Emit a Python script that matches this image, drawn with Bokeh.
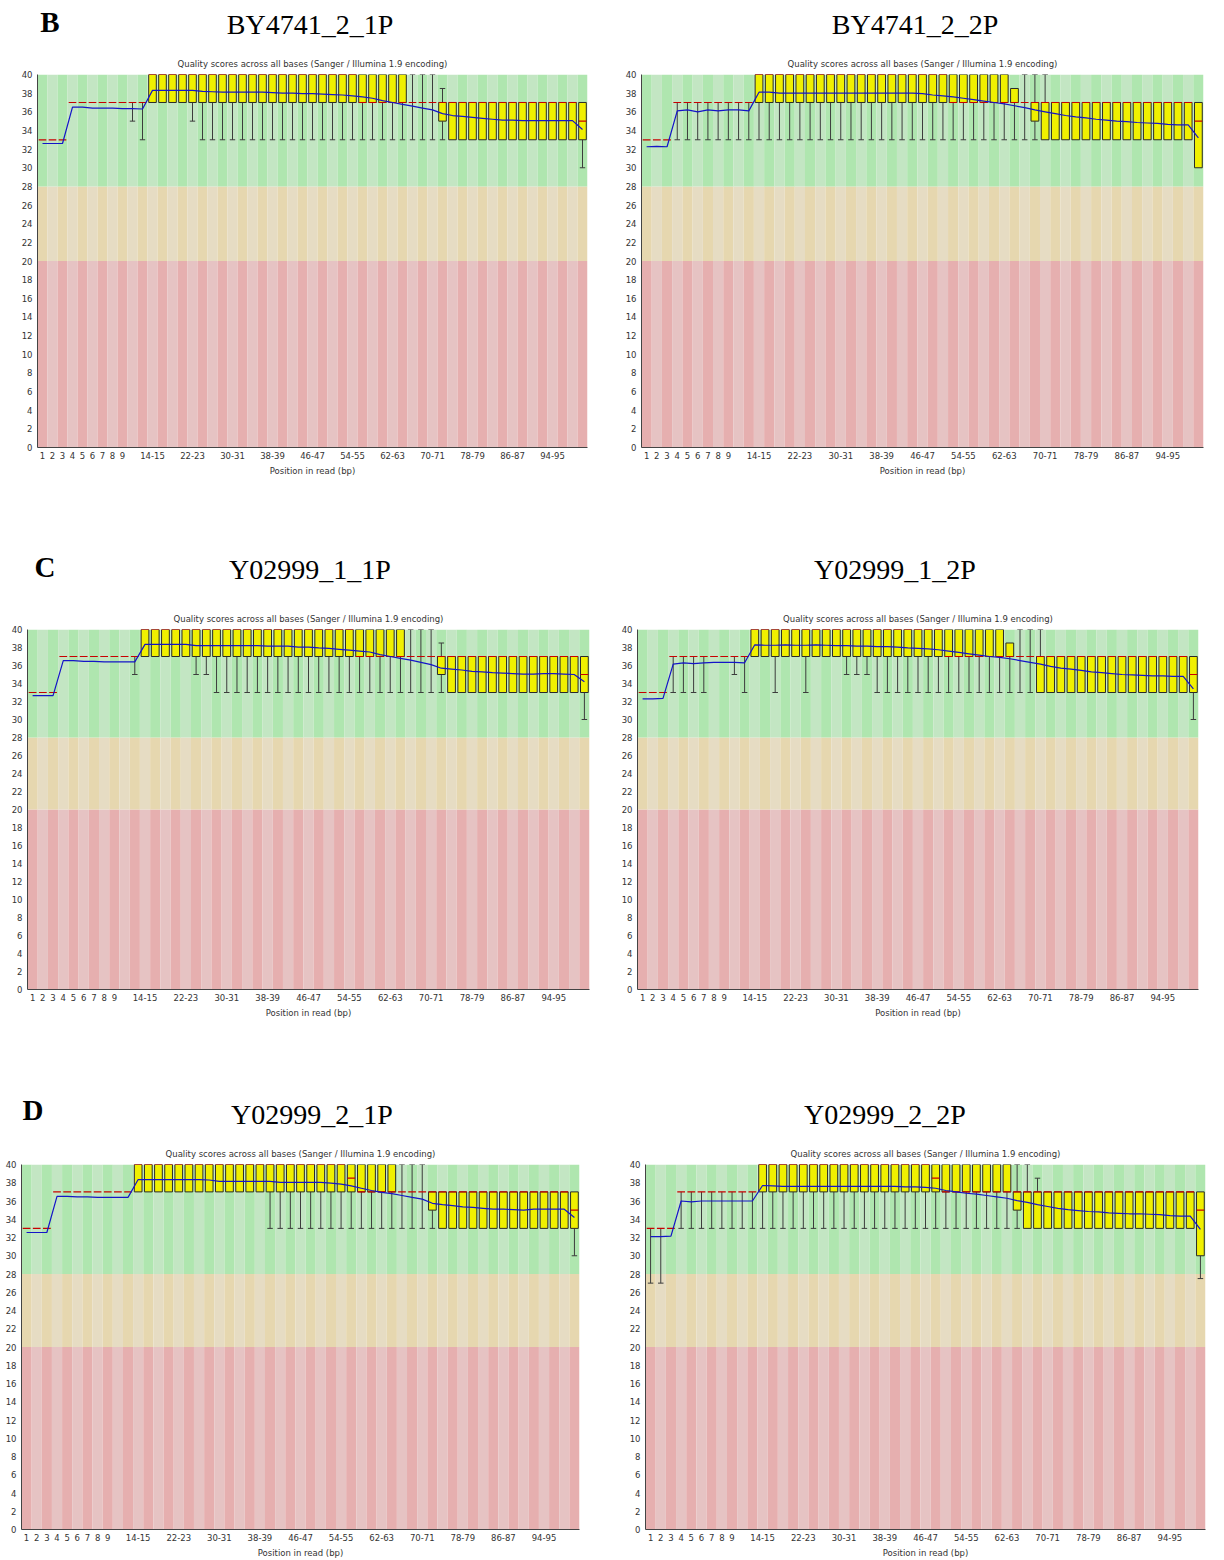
import numpy as np
from bokeh.plotting import figure
from bokeh.models import Range1d, FixedTicker, Div
from bokeh.layouts import column, row
from bokeh.embed import file_html
from bokeh.resources import INLINE

# ---------------- data ----------------
sample_names = ["BY4741_2_1P", "BY4741_2_2P", "Y02999_1_1P",
                "Y02999_1_2P", "Y02999_2_1P", "Y02999_2_2P"]
panel_letters = ["B", "C", "D"]
fastqc_title = "Quality scores across all bases (Sanger / Illumina 1.9 encoding)"
x_title = "Position in read (bp)"

x_labels = ["1", "2", "3", "4", "5", "6", "7", "8", "9",
            "10-11", "12-13", "14-15", "16-17", "18-19", "20-21", "22-23", "24-25",
            "26-27", "28-29", "30-31", "32-33", "34-35", "36-37", "38-39", "40-41",
            "42-43", "44-45", "46-47", "48-49", "50-51", "52-53", "54-55", "56-57",
            "58-59", "60-61", "62-63", "64-65", "66-67", "68-69", "70-71", "72-73",
            "74-75", "76-77", "78-79", "80-81", "82-83", "84-85", "86-87", "88-89",
            "90-91", "92-93", "94-95", "96-97", "98-99", "100-101"]
shown_idx = [0, 1, 2, 3, 4, 5, 6, 7, 8, 11, 15, 19, 23, 27, 31, 35, 39, 43, 47, 51]
y_ticks = [0, 2, 4, 6, 8, 10, 12, 14, 16, 18, 20, 22, 24, 26, 28, 30, 32, 34, 36, 38, 40]
band_edges = [0, 20, 28, 40]

# Panel 1: BY4741_2_1P
p1_med = [33, 33, 33, 37, 37, 37, 37, 37, 37, 37, 37,
          40, 40, 40, 40, 40, 40, 40, 40, 40, 40, 40,
          40, 40, 40, 40, 40, 40, 40, 40, 40, 40, 37,
          37, 37, 37, 37, 37, 37, 37, 37, 37, 37, 37,
          37, 37, 37, 37, 37, 37, 37, 37, 37, 37, 35]
p1_q1 = [33, 33, 33, 37, 37, 37, 37, 37, 37, 37, 37,
         37, 37, 37, 37, 37, 37, 37, 37, 37, 37, 37,
         37, 37, 37, 37, 37, 37, 37, 37, 37, 37, 37,
         37, 37, 37, 37, 37, 37, 37, 35, 33, 33, 33,
         33, 33, 33, 33, 33, 33, 33, 33, 33, 33, 33]
p1_q3 = [33, 33, 33, 37, 37, 37, 37, 37, 37, 37, 37,
         40, 40, 40, 40, 40, 40, 40, 40, 40, 40, 40,
         40, 40, 40, 40, 40, 40, 40, 40, 40, 40, 40,
         40, 40, 40, 40, 37, 37, 37, 37, 37, 37, 37,
         37, 37, 37, 37, 37, 37, 37, 37, 37, 37, 37]
p1_p90 = [33, 33, 33, 37, 37, 37, 37, 37, 37, 37, 37,
          40, 40, 40, 40, 40, 40, 40, 40, 40, 40, 40,
          40, 40, 40, 40, 40, 40, 40, 40, 40, 40, 40,
          40, 40, 40, 40, 40, 40, 40, 38.5, 37, 37, 37,
          37, 37, 37, 37, 37, 37, 37, 37, 37, 37, 37]
p1_p10 = [33, 33, 33, 37, 37, 37, 37, 37, 37, 35, 33,
          37, 37, 37, 37, 35, 33, 33, 33, 33, 33, 33,
          33, 33, 33, 33, 33, 33, 33, 33, 33, 33, 33,
          33, 33, 33, 33, 33, 33, 33, 33, 33, 33, 33,
          33, 33, 33, 33, 33, 33, 33, 33, 33, 33, 30]
p1_mean = [32.6, 32.6, 32.6, 36.5, 36.5, 36.4, 36.4, 36.4, 36.35, 36.35, 36.3,
           38.3, 38.3, 38.3, 38.3, 38.3, 38.2, 38.15, 38.1, 38.1, 38.1, 38.1,
           38.1, 38.05, 38.0, 38.0, 37.95, 37.95, 37.9, 37.85, 37.8, 37.7, 37.6,
           37.45, 37.2, 37.0, 36.8, 36.6, 36.4, 36.2, 35.8, 35.6, 35.5, 35.4,
           35.3, 35.2, 35.1, 35.1, 35.05, 35.05, 35.05, 35.05, 35.05, 35.05, 34.1]

# Panel 2: BY4741_2_2P
p2_med = [33, 33, 33, 37, 37, 37, 37, 37, 37, 37, 37,
          40, 40, 40, 40, 40, 40, 40, 40, 40, 40, 40,
          40, 40, 40, 40, 40, 40, 40, 40, 37, 37, 37,
          37, 37, 37, 37, 37, 37, 37, 37, 37, 37, 37,
          37, 37, 37, 37, 37, 37, 37, 37, 37, 37, 35]
p2_q1 = [33, 33, 33, 37, 37, 37, 37, 37, 37, 37, 37,
         37, 37, 37, 37, 37, 37, 37, 37, 37, 37, 37,
         37, 37, 37, 37, 37, 37, 37, 37, 37, 37, 37,
         37, 37, 37, 37, 37, 35, 33, 33, 33, 33, 33,
         33, 33, 33, 33, 33, 33, 33, 33, 33, 33, 30]
p2_q3 = [33, 33, 33, 37, 37, 37, 37, 37, 37, 37, 37,
         40, 40, 40, 40, 40, 40, 40, 40, 40, 40, 40,
         40, 40, 40, 40, 40, 40, 40, 40, 40, 40, 40,
         40, 40, 40, 38.5, 37, 37, 37, 37, 37, 37, 37,
         37, 37, 37, 37, 37, 37, 37, 37, 37, 37, 37]
p2_p90 = [33, 33, 33, 37, 37, 37, 37, 37, 37, 37, 37,
          40, 40, 40, 40, 40, 40, 40, 40, 40, 40, 40,
          40, 40, 40, 40, 40, 40, 40, 40, 40, 40, 40,
          40, 40, 40, 38.5, 40, 40, 40, 37, 37, 37, 37,
          37, 37, 37, 37, 37, 37, 37, 37, 37, 37, 37]
p2_p10 = [33, 33, 33, 33, 33, 33, 33, 33, 33, 33, 33,
          33, 33, 33, 33, 33, 33, 33, 33, 33, 33, 33,
          33, 33, 33, 33, 33, 33, 33, 33, 33, 33, 33,
          33, 33, 33, 33, 33, 33, 33, 33, 33, 33, 33,
          33, 33, 33, 33, 33, 33, 33, 33, 33, 33, 30]
p2_mean = [32.25, 32.3, 32.25, 36.1, 36.2, 36.0, 36.2, 36.1, 36.2, 36.2, 36.1,
           38.1, 38.1, 38.0, 38.0, 38.0, 38.0, 38.0, 38.0, 38.0, 38.0, 38.0,
           38.0, 38.0, 38.0, 38.0, 38.0, 37.95, 37.8, 37.7, 37.6, 37.45, 37.3,
           37.15, 37.0, 36.85, 36.65, 36.45, 36.2, 36.0, 35.8, 35.6, 35.45, 35.35,
           35.2, 35.1, 35.0, 34.95, 34.85, 34.8, 34.75, 34.65, 34.6, 34.6, 33.2]

# Panel 3: Y02999_1_1P
p3_med = [33, 33, 33, 37, 37, 37, 37, 37, 37, 37, 37,
          40, 40, 40, 40, 40, 40, 40, 40, 40, 40, 40,
          40, 40, 40, 40, 40, 40, 40, 40, 40, 40, 37,
          37, 37, 37, 37, 37, 37, 37, 37, 37, 37, 37,
          37, 37, 37, 37, 37, 37, 37, 37, 37, 37, 35]
p3_q1 = [33, 33, 33, 37, 37, 37, 37, 37, 37, 37, 37,
         37, 37, 37, 37, 37, 37, 37, 37, 37, 37, 37,
         37, 37, 37, 37, 37, 37, 37, 37, 37, 37, 37,
         37, 37, 37, 37, 37, 37, 37, 35, 33, 33, 33,
         33, 33, 33, 33, 33, 33, 33, 33, 33, 33, 33]
p3_q3 = [33, 33, 33, 37, 37, 37, 37, 37, 37, 37, 37,
         40, 40, 40, 40, 40, 40, 40, 40, 40, 40, 40,
         40, 40, 40, 40, 40, 40, 40, 40, 40, 40, 40,
         40, 40, 40, 40, 37, 37, 37, 37, 37, 37, 37,
         37, 37, 37, 37, 37, 37, 37, 37, 37, 37, 37]
p3_p90 = [33, 33, 33, 37, 37, 37, 37, 37, 37, 37, 37,
          40, 40, 40, 40, 40, 40, 40, 40, 40, 40, 40,
          40, 40, 40, 40, 40, 40, 40, 40, 40, 40, 40,
          40, 40, 40, 40, 40, 40, 40, 38.5, 37, 37, 37,
          37, 37, 37, 37, 37, 37, 37, 37, 37, 37, 37]
p3_p10 = [33, 33, 33, 37, 37, 37, 37, 37, 37, 37, 35,
          37, 37, 37, 37, 37, 35, 35, 33, 33, 33, 33,
          33, 33, 33, 33, 33, 33, 33, 33, 33, 33, 33,
          33, 33, 33, 33, 33, 33, 33, 33, 33, 33, 33,
          33, 33, 33, 33, 33, 33, 33, 33, 33, 33, 30]
p3_mean = [32.65, 32.65, 32.65, 36.55, 36.55, 36.45, 36.45, 36.4, 36.4, 36.4, 36.4,
           38.35, 38.35, 38.35, 38.35, 38.35, 38.2, 38.2, 38.2, 38.2, 38.2, 38.2,
           38.2, 38.15, 38.15, 38.15, 38.05, 38.05, 37.95, 37.9, 37.8, 37.7, 37.6,
           37.5, 37.2, 37.0, 36.8, 36.6, 36.35, 36.1, 35.7, 35.6, 35.5, 35.35,
           35.3, 35.2, 35.15, 35.1, 35.05, 35.05, 35.1, 35.1, 35.05, 35.0, 34.2]

# Panel 4: Y02999_1_2P
p4_med = [33, 33, 33, 37, 37, 37, 37, 37, 37, 37, 37,
          40, 40, 40, 40, 40, 40, 40, 40, 40, 40, 40,
          40, 40, 40, 40, 40, 40, 40, 40, 37, 37, 37,
          37, 37, 37, 37, 37, 37, 37, 37, 37, 37, 37,
          37, 37, 37, 37, 37, 37, 37, 37, 37, 37, 35]
p4_q1 = [33, 33, 33, 37, 37, 37, 37, 37, 37, 37, 37,
         37, 37, 37, 37, 37, 37, 37, 37, 37, 37, 37,
         37, 37, 37, 37, 37, 37, 37, 37, 37, 37, 37,
         37, 37, 37, 37, 37, 37, 33, 33, 33, 33, 33,
         33, 33, 33, 33, 33, 33, 33, 33, 33, 33, 33]
p4_q3 = [33, 33, 33, 37, 37, 37, 37, 37, 37, 37, 37,
         40, 40, 40, 40, 40, 40, 40, 40, 40, 40, 40,
         40, 40, 40, 40, 40, 40, 40, 40, 40, 40, 40,
         40, 40, 40, 38.5, 37, 37, 37, 37, 37, 37, 37,
         37, 37, 37, 37, 37, 37, 37, 37, 37, 37, 37]
p4_p90 = [33, 33, 33, 37, 37, 37, 37, 37, 37, 37, 37,
          40, 40, 40, 40, 40, 40, 40, 40, 40, 40, 40,
          40, 40, 40, 40, 40, 40, 40, 40, 40, 40, 40,
          40, 40, 40, 38.5, 40, 40, 40, 37, 37, 37, 37,
          37, 37, 37, 37, 37, 37, 37, 37, 37, 37, 37]
p4_p10 = [33, 33, 33, 33, 33, 33, 33, 37, 37, 35, 33,
          37, 37, 33, 37, 37, 33, 37, 37, 37, 35, 35,
          35, 33, 33, 33, 33, 33, 33, 33, 33, 33, 33,
          33, 33, 33, 33, 33, 33, 33, 33, 33, 33, 33,
          33, 33, 33, 33, 33, 33, 33, 33, 33, 33, 30]
p4_mean = [32.3, 32.3, 32.35, 36.15, 36.3, 36.2, 36.3, 36.35, 36.35, 36.35, 36.3,
           38.3, 38.25, 38.25, 38.3, 38.25, 38.25, 38.3, 38.25, 38.2, 38.2, 38.15,
           38.15, 38.1, 38.1, 38.05, 37.95, 37.9, 37.85, 37.75, 37.6, 37.45, 37.3,
           37.15, 37.0, 36.9, 36.75, 36.55, 36.35, 36.15, 35.9, 35.7, 35.6, 35.45,
           35.3, 35.2, 35.1, 35.0, 34.95, 34.9, 34.85, 34.85, 34.8, 34.8, 33.4]

# Panel 5: Y02999_2_1P
p5_med = [33, 33, 33, 37, 37, 37, 37, 37, 37, 37, 37,
          40, 40, 40, 40, 40, 40, 40, 40, 40, 40, 40,
          40, 40, 40, 40, 40, 40, 40, 40, 40, 40, 38.5,
          37, 37, 37, 37, 37, 37, 37, 37, 37, 37, 37,
          37, 37, 37, 37, 37, 37, 37, 37, 37, 37, 35]
p5_q1 = [33, 33, 33, 37, 37, 37, 37, 37, 37, 37, 37,
         37, 37, 37, 37, 37, 37, 37, 37, 37, 37, 37,
         37, 37, 37, 37, 37, 37, 37, 37, 37, 37, 37,
         37, 37, 37, 37, 37, 37, 37, 35, 33, 33, 33,
         33, 33, 33, 33, 33, 33, 33, 33, 33, 33, 33]
p5_q3 = [33, 33, 33, 37, 37, 37, 37, 37, 37, 37, 37,
         40, 40, 40, 40, 40, 40, 40, 40, 40, 40, 40,
         40, 40, 40, 40, 40, 40, 40, 40, 40, 40, 40,
         40, 40, 40, 40, 37, 37, 37, 37, 37, 37, 37,
         37, 37, 37, 37, 37, 37, 37, 37, 37, 37, 37]
p5_p90 = [33, 33, 33, 37, 37, 37, 37, 37, 37, 37, 37,
          40, 40, 40, 40, 40, 40, 40, 40, 40, 40, 40,
          40, 40, 40, 40, 40, 40, 40, 40, 40, 40, 40,
          40, 40, 40, 40, 40, 40, 40, 37, 37, 37, 37,
          37, 37, 37, 37, 37, 37, 37, 37, 37, 37, 37]
p5_p10 = [33, 33, 33, 37, 37, 37, 37, 37, 37, 37, 37,
          37, 37, 37, 37, 37, 37, 37, 37, 37, 37, 37,
          37, 37, 33, 33, 33, 33, 33, 33, 33, 33, 33,
          33, 33, 33, 33, 33, 33, 33, 33, 33, 33, 33,
          33, 33, 33, 33, 33, 33, 33, 33, 33, 33, 30]
p5_mean = [32.55, 32.55, 32.55, 36.5, 36.5, 36.45, 36.45, 36.4, 36.4, 36.4, 36.4,
           38.35, 38.35, 38.35, 38.35, 38.35, 38.35, 38.35, 38.3, 38.15, 38.15, 38.15,
           38.15, 38.15, 38.15, 38.05, 38.05, 38.05, 38.05, 38.05, 37.95, 37.85, 37.65,
           37.4, 37.15, 36.95, 36.8, 36.6, 36.4, 36.2, 35.75, 35.6, 35.5, 35.35,
           35.3, 35.2, 35.1, 35.1, 35.05, 35.0, 35.1, 35.1, 35.1, 35.1, 34.2]

# Panel 6: Y02999_2_2P
p6_med = [33, 33, 33, 37, 37, 37, 37, 37, 37, 37, 37,
          40, 40, 40, 40, 40, 40, 40, 40, 40, 40, 40,
          40, 40, 40, 40, 40, 40, 38.5, 37, 37, 37, 37,
          37, 37, 37, 37, 37, 37, 37, 37, 37, 37, 37,
          37, 37, 37, 37, 37, 37, 37, 37, 37, 37, 35]
p6_q1 = [33, 33, 33, 37, 37, 37, 37, 37, 37, 37, 37,
         37, 37, 37, 37, 37, 37, 37, 37, 37, 37, 37,
         37, 37, 37, 37, 37, 37, 37, 37, 37, 37, 37,
         37, 37, 37, 35, 33, 33, 33, 33, 33, 33, 33,
         33, 33, 33, 33, 33, 33, 33, 33, 33, 33, 30]
p6_q3 = [33, 33, 33, 37, 37, 37, 37, 37, 37, 37, 37,
         40, 40, 40, 40, 40, 40, 40, 40, 40, 40, 40,
         40, 40, 40, 40, 40, 40, 40, 40, 40, 40, 40,
         40, 40, 40, 37, 37, 37, 37, 37, 37, 37, 37,
         37, 37, 37, 37, 37, 37, 37, 37, 37, 37, 37]
p6_p90 = [33, 33, 33, 37, 37, 37, 37, 37, 37, 37, 37,
          40, 40, 40, 40, 40, 40, 40, 40, 40, 40, 40,
          40, 40, 40, 40, 40, 40, 40, 40, 40, 40, 40,
          40, 40, 40, 40, 40, 38.5, 37, 37, 37, 37, 37,
          37, 37, 37, 37, 37, 37, 37, 37, 37, 37, 37]
p6_p10 = [27, 27, 33, 33, 33, 33, 33, 33, 33, 33, 33,
          33, 33, 33, 33, 33, 33, 33, 33, 33, 33, 33,
          33, 33, 33, 33, 33, 33, 33, 33, 33, 33, 33,
          33, 33, 33, 33, 33, 33, 33, 33, 33, 33, 33,
          33, 33, 33, 33, 33, 33, 33, 33, 33, 33, 27.5]
p6_mean = [32.1, 32.1, 32.15, 36.0, 35.9, 36.0, 36.0, 36.0, 36.0, 36.0, 36.0,
           37.7, 37.65, 37.6, 37.6, 37.6, 37.6, 37.6, 37.6, 37.6, 37.6, 37.6,
           37.6, 37.6, 37.6, 37.55, 37.55, 37.5, 37.4, 37.15, 37.0, 36.85, 36.75,
           36.6, 36.45, 36.3, 36.05, 35.85, 35.6, 35.4, 35.2, 35.05, 34.95, 34.85,
           34.8, 34.7, 34.65, 34.6, 34.6, 34.55, 34.5, 34.4, 34.35, 34.35, 32.9]

panels = [
    (p1_p10, p1_q1, p1_med, p1_q3, p1_p90, p1_mean),
    (p2_p10, p2_q1, p2_med, p2_q3, p2_p90, p2_mean),
    (p3_p10, p3_q1, p3_med, p3_q3, p3_p90, p3_mean),
    (p4_p10, p4_q1, p4_med, p4_q3, p4_p90, p4_mean),
    (p5_p10, p5_q1, p5_med, p5_q3, p5_p90, p5_mean),
    (p6_p10, p6_q1, p6_med, p6_q3, p6_p90, p6_mean),
]

# ---------------- style / layout ----------------
band_colors = [("#E6AFAF", "#E6C3C3"), ("#E6D7AF", "#E6DCC3"), ("#AFE6AF", "#C3E6C3")]
BOX_FILL = "#F0F000"
BOX_LINE = "#2a2a2a"
WHISKER = "#3c3c3c"
MEDIAN = "#C80000"
MEAN = "#1414C8"
SANS = "DejaVu Sans"
SERIF = "Liberation Serif"
TXT = "#333333"

# (width, height, left, right, top, bottom)
fig_specs = [
    (612, 500, 37, 25, 27, 96),
    (612, 500, 29, 21, 29, 98),
    (612, 495, 27, 23, 27, 101),
    (612, 495, 25, 26, 34, 100),
    (612, 422, 21, 33, 26, 31),
    (612, 422, 33, 19, 25, 29),
]


def make_panel(data, spec):
    p10, q1, med, q3, p90, mean = [np.asarray(a, dtype=float) for a in data]
    n = len(x_labels)
    x = np.arange(n) + 0.5
    w, h, bl, br, bt, bb = spec
    p = figure(width=w, height=h, x_range=Range1d(0, n), y_range=Range1d(0, 40),
               output_backend="svg", toolbar_location=None,
               min_border_left=bl, min_border_right=br,
               min_border_top=bt, min_border_bottom=bb,
               title=fastqc_title, margin=0)
    p.title.text_font = SANS
    p.title.text_font_size = "8.5px"
    p.title.text_font_style = "normal"
    p.title.text_color = TXT
    p.title.align = "center"
    p.title.standoff = 12
    p.outline_line_color = None
    p.xgrid.visible = False
    p.ygrid.visible = False
    p.background_fill_color = "white"
    p.border_fill_color = "white"

    even = (np.arange(n) % 2) == 0
    for (lo, hi), (dark, light) in zip(zip(band_edges[:-1], band_edges[1:]), band_colors):
        cols = [dark if e else light for e in even]
        p.quad(left=x - 0.5, right=x + 0.5, bottom=lo, top=hi,
               fill_color=cols, line_color=None)

    cap = 0.27
    m = p10 < q1
    p.segment(x0=x[m], y0=p10[m], x1=x[m], y1=q1[m], line_color=WHISKER, line_width=1)
    p.segment(x0=x[m] - cap, y0=p10[m], x1=x[m] + cap, y1=p10[m], line_color=WHISKER, line_width=1)
    m = p90 > q3
    p.segment(x0=x[m], y0=q3[m], x1=x[m], y1=p90[m], line_color=WHISKER, line_width=1)
    p.segment(x0=x[m] - cap, y0=p90[m], x1=x[m] + cap, y1=p90[m], line_color=WHISKER, line_width=1)

    m = q3 > q1
    p.vbar(x=x[m], width=0.76, bottom=q1[m], top=q3[m],
           fill_color=BOX_FILL, line_color=BOX_LINE, line_width=1)
    p.segment(x0=x - 0.38, y0=med, x1=x + 0.38, y1=med, line_color=MEDIAN, line_width=1.2)
    p.line(x, mean, line_color=MEAN, line_width=1.2)

    p.xaxis.ticker = FixedTicker(ticks=[i + 0.5 for i in shown_idx])
    p.xaxis.major_label_overrides = {i + 0.5: x_labels[i] for i in shown_idx}
    p.yaxis.ticker = FixedTicker(ticks=y_ticks)
    for ax in (p.xaxis[0], p.yaxis[0]):
        ax.major_tick_line_color = None
        ax.minor_tick_line_color = None
        ax.major_tick_out = 0
        ax.major_tick_in = 0
        ax.minor_tick_out = 0
        ax.minor_tick_in = 0
        ax.axis_line_color = "#444444"
        ax.axis_line_width = 1
        ax.major_label_text_font = SANS
        ax.major_label_text_font_size = "8.5px"
        ax.major_label_text_color = TXT
    p.xaxis.major_label_standoff = 4
    p.yaxis.major_label_standoff = 5
    p.xaxis.axis_label = x_title
    p.xaxis.axis_label_text_font = SANS
    p.xaxis.axis_label_text_font_size = "8.5px"
    p.xaxis.axis_label_text_font_style = "normal"
    p.xaxis.axis_label_text_color = TXT
    p.xaxis.axis_label_standoff = 4
    return p


def span(text, cx, cy, size, bold=False):
    weight = "bold" if bold else "normal"
    return (f'<span style="position:absolute;left:{cx}px;top:{cy}px;'
            f'transform:translate(-50%,-50%);font-family:\'{SERIF}\';font-size:{size}px;'
            f'font-weight:{weight};line-height:1;white-space:nowrap;color:#000;">{text}</span>')


def header(letter, lxy, t1, t1xy, t2, t2xy, h):
    html = (f'<div style="position:relative;width:1224px;height:{h}px;">'
            + span(letter, lxy[0], lxy[1], 29, True)
            + span(t1, t1xy[0], t1xy[1], 28)
            + span(t2, t2xy[0], t2xy[1], 28)
            + '</div>')
    return Div(text=html, width=1224, height=h, margin=0)


figs = [make_panel(d, s) for d, s in zip(panels, fig_specs)]

hdr_b = header(panel_letters[0], (50, 22), sample_names[0], (310, 25), sample_names[1], (915, 25), 45)
hdr_c = header(panel_letters[1], (45, 22), sample_names[2], (310, 25), sample_names[3], (895, 25), 50)
hdr_d = header(panel_letters[2], (33, 20), sample_names[4], (312, 25), sample_names[5], (885, 25), 48)

layout = column(
    hdr_b, row(figs[0], figs[1], spacing=0, margin=0),
    hdr_c, row(figs[2], figs[3], spacing=0, margin=0),
    hdr_d, row(figs[4], figs[5], spacing=0, margin=0),
    spacing=0, margin=0,
)

open("out.html", "w").write(file_html(layout, INLINE, title="FastQC per base quality"))
